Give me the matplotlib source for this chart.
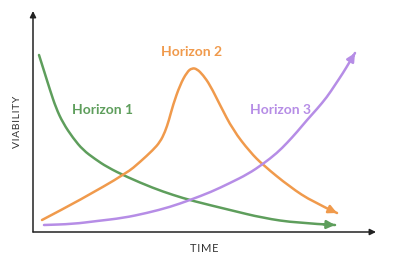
import matplotlib.pyplot as plt
from matplotlib.path import Path
from matplotlib.patches import PathPatch

# values (time, viability)
h1_time = [6, 12, 17, 23, 30, 40, 50, 62, 74, 94, 120, 140, 160, 197, 230, 264, 302]
h1_viab = [177, 158, 142, 124, 109, 94, 82, 73, 65, 55, 44, 37, 31, 22, 14, 9, 7]

h2_time = [9, 47, 94, 107, 120, 127, 132, 136, 140, 147, 154, 159, 164, 170, 177, 187, 200, 217, 230, 257, 280, 304]
h2_viab = [12, 32, 59, 70, 82, 90, 100, 112, 127, 147, 160, 164, 163, 157, 147, 127, 102, 80, 67, 45, 30, 19]

h3_time = [11, 40, 64, 90, 114, 137, 157, 178, 197, 215, 230, 244, 254, 264, 274, 284, 294, 302, 310, 316, 322]
h3_viab = [7, 8, 11, 14, 19, 25, 32, 40, 49, 58, 68, 79, 89, 100, 112, 123, 135, 147, 159, 169, 179]

labels = ["Horizon 1", "Horizon 2", "Horizon 3"]
label_pos = [(70, 122), (159, 180), (247, 122)]
colors = ["#5e9e5c", "#f09a4c", "#b68de6"]

plt.rcParams['font.family'] = ['Lato', 'DejaVu Sans']

fig = plt.figure(figsize=(4, 2.65), dpi=100)
ax = fig.add_axes([0, 0, 1, 1])
ax.set_xlim(-33, 367)
ax.set_ylim(-33, 232)
ax.axis("off")

# axes with arrow heads
ax.annotate("", xy=(0, 221), xytext=(0, 0),
            arrowprops=dict(arrowstyle="-|>", color="#222222", lw=1.1,
                            mutation_scale=9, shrinkA=0, shrinkB=0))
ax.annotate("", xy=(343, 0), xytext=(0, 0),
            arrowprops=dict(arrowstyle="-|>", color="#222222", lw=1.1,
                            mutation_scale=9, shrinkA=0, shrinkB=0))


def smooth_path(t, v):
    pts = list(zip(t, v))
    verts = [pts[0], ((pts[0][0] + pts[1][0]) / 2, (pts[0][1] + pts[1][1]) / 2)]
    codes = [Path.MOVETO, Path.LINETO]
    for i in range(1, len(pts) - 1):
        nxt = pts[i + 1]
        if i < len(pts) - 2:
            end = ((pts[i][0] + nxt[0]) / 2, (pts[i][1] + nxt[1]) / 2)
        else:
            end = nxt
        verts += [pts[i], end]
        codes += [Path.CURVE3, Path.CURVE3]
    return Path(verts, codes)


for t, v, c in [(h1_time, h1_viab, colors[0]),
                (h2_time, h2_viab, colors[1]),
                (h3_time, h3_viab, colors[2])]:
    ax.add_patch(PathPatch(smooth_path(t, v), fill=False, edgecolor=c,
                           lw=1.8, capstyle="round", joinstyle="round"))
    back = (t[-1] - 0.3 * (t[-1] - t[-2]), v[-1] - 0.3 * (v[-1] - v[-2]))
    ax.annotate("", xy=(t[-1], v[-1]), xytext=back,
                arrowprops=dict(arrowstyle="-|>", color=c, lw=1.8,
                                mutation_scale=12, shrinkA=0, shrinkB=0))

for lab, (x, y), c in zip(labels, label_pos, colors):
    ax.text(x, y, lab, color=c, fontsize=10, fontweight="bold",
            ha="center", va="center")

sp = "\u200a"
ax.text(171, -16, sp.join("TIME"), color="#333333", fontsize=8,
        ha="center", va="center", family=["Lato", "DejaVu Sans"])
ax.text(-15, 110, sp.join("VIABILITY"), color="#333333", fontsize=7.5,
        ha="center", va="center", rotation=90, family=["Lato", "DejaVu Sans"])

plt.savefig("out.png", dpi=100)
